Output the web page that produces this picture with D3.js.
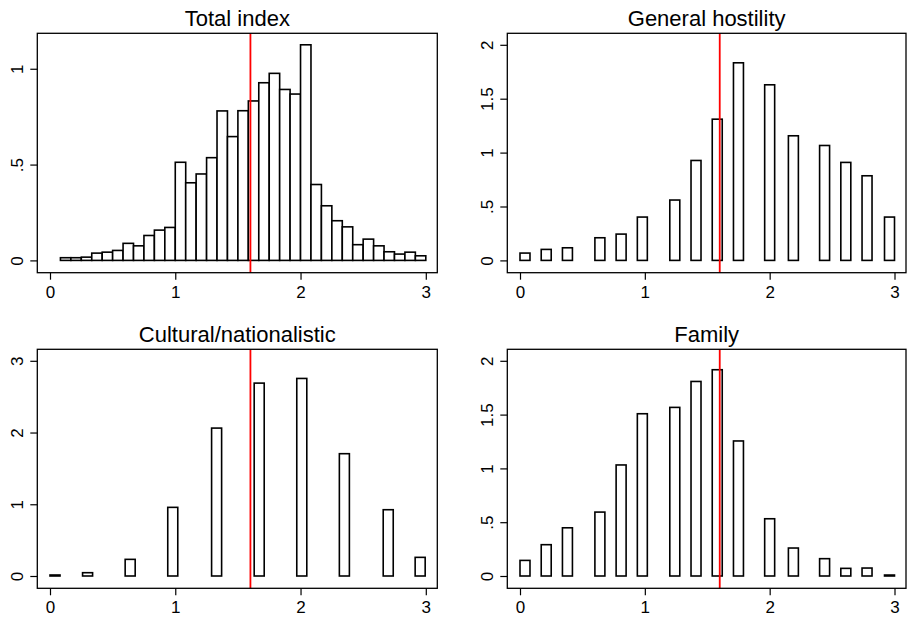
<!DOCTYPE html>
<html>
<head>
<meta charset="utf-8">
<script src="https://cdn.jsdelivr.net/npm/d3@7"></script>
<style>
  body { margin: 0; background: #fff; }
  text { font-family: "Liberation Sans", Arial, Helvetica, sans-serif; fill: #000; }
</style>
</head>
<body>
<svg id="chart" width="907" height="617"></svg>
<script>
/* global d3 */

// Total index: histogram, 35 bins of width 1/12 starting at 1/12
const totalStart = 1 / 12,
  totalWidth = 1 / 12;
const totalDensity = [
  0.014, 0.014, 0.017, 0.038, 0.043, 0.052, 0.089, 0.076, 0.130, 0.158,
  0.172, 0.512, 0.405, 0.451, 0.536, 0.780, 0.646, 0.781, 0.832, 0.927,
  0.976, 0.892, 0.868, 1.125, 0.396, 0.285, 0.207, 0.175, 0.082, 0.111,
  0.076, 0.045, 0.033, 0.043, 0.024
];

// General hostility / Family: discrete bars
const hostilityX = [0.04, 0.21, 0.38, 0.64, 0.81, 0.98, 1.24, 1.41, 1.58, 1.75, 2.0, 2.19, 2.44, 2.61, 2.78, 2.96];
const hostilityDensity = [0.068, 0.102, 0.117, 0.21, 0.244, 0.402, 0.56, 0.927, 1.31, 1.833, 1.629, 1.156, 1.066, 0.909, 0.785, 0.402];

const familyX = [0.04, 0.21, 0.38, 0.64, 0.81, 0.98, 1.24, 1.41, 1.58, 1.75, 2.0, 2.19, 2.44, 2.61, 2.78, 2.96];
const familyDensity = [0.145, 0.291, 0.448, 0.594, 1.032, 1.508, 1.567, 1.808, 1.917, 1.255, 0.532, 0.26, 0.161, 0.071, 0.074, 0.009];

// Cultural/nationalistic
const culturalX = [0.04, 0.30, 0.64, 0.98, 1.33, 1.67, 2.01, 2.35, 2.70, 2.955];
const culturalDensity = [0.014, 0.046, 0.232, 0.957, 2.062, 2.689, 2.754, 1.705, 0.924, 0.26];

const xTicks = [0, 1, 2, 3];
const meanLine = 1.6;
const barWidth = 0.08;

const panels = [
  {
    title: 'Total index',
    box: { x: 37.3, y: 33.3, w: 400, h: 239.4 },
    bars: totalDensity.map((d, i) => ({ x0: totalStart + i * totalWidth, x1: totalStart + (i + 1) * totalWidth, v: d })),
    yTicks: [0, 0.5, 1]
  },
  {
    title: 'General hostility',
    box: { x: 507.3, y: 33.3, w: 398.7, h: 239.4 },
    bars: hostilityDensity.map((d, i) => ({ x0: hostilityX[i] - barWidth / 2, x1: hostilityX[i] + barWidth / 2, v: d })),
    yTicks: [0, 0.5, 1, 1.5, 2]
  },
  {
    title: 'Cultural/nationalistic',
    box: { x: 37.3, y: 349.3, w: 400, h: 239 },
    bars: culturalDensity.map((d, i) => ({ x0: culturalX[i] - barWidth / 2, x1: culturalX[i] + barWidth / 2, v: d })),
    yTicks: [0, 1, 2, 3]
  },
  {
    title: 'Family',
    box: { x: 507.3, y: 349.3, w: 398.7, h: 239 },
    bars: familyDensity.map((d, i) => ({ x0: familyX[i] - barWidth / 2, x1: familyX[i] + barWidth / 2, v: d })),
    yTicks: [0, 0.5, 1, 1.5, 2]
  }
];

// Stata-style labels: ".5" instead of "0.5"
const fmt = d => String(d).replace(/^0\./, '.');

const svg = d3.select('#chart');

panels.forEach(function(p) {
  var b = p.box;
  var g = svg.append('g').attr('class', 'panel');

  var yMax = Math.max(d3.max(p.bars, d => d.v), d3.max(p.yTicks));

  var x = d3.scaleLinear().domain([0, 3]).range([b.x + 12.7, b.x + b.w - 11.5]);
  var y = d3.scaleLinear().domain([0, yMax]).range([b.y + b.h - 12.3, b.y + 11.5]);

  // title
  g.append('text')
    .attr('x', b.x + b.w / 2)
    .attr('y', b.y - 7)
    .attr('text-anchor', 'middle')
    .style('font-size', '22px')
    .text(p.title);

  // bars
  g.append('g').selectAll('rect')
    .data(p.bars)
    .enter()
    .append('rect')
    .attr('x', d => x(d.x0))
    .attr('width', d => x(d.x1) - x(d.x0))
    .attr('y', d => y(d.v))
    .attr('height', d => y(0) - y(d.v))
    .attr('fill', '#fff')
    .attr('stroke', '#000')
    .attr('stroke-width', 1.6);

  // mean line
  g.append('line')
    .attr('x1', x(meanLine))
    .attr('x2', x(meanLine))
    .attr('y1', b.y)
    .attr('y2', b.y + b.h)
    .attr('stroke', '#ff0000')
    .attr('stroke-width', 1.8);

  // plot box
  g.append('rect')
    .attr('x', b.x)
    .attr('y', b.y)
    .attr('width', b.w)
    .attr('height', b.h)
    .attr('fill', 'none')
    .attr('stroke', '#000')
    .attr('stroke-width', 1.3);

  // x axis
  var xAxis = g.append('g')
    .attr('transform', `translate(0,${b.y + b.h})`)
    .call(d3.axisBottom(x).tickValues(xTicks).tickSize(7).tickFormat(d3.format('d')));
  xAxis.select('.domain').remove();
  xAxis.selectAll('line').attr('stroke', '#000').attr('stroke-width', 1.2);
  xAxis.selectAll('text')
    .attr('y', 25)
    .attr('dy', 0)
    .style('font-size', '17px')
    .style('font-family', '"Liberation Sans", Arial, sans-serif');

  // y axis
  var yAxis = g.append('g')
    .attr('transform', `translate(${b.x},0)`)
    .call(d3.axisLeft(y).tickValues(p.yTicks).tickSize(7).tickFormat(fmt));
  yAxis.select('.domain').remove();
  yAxis.selectAll('line').attr('stroke', '#000').attr('stroke-width', 1.2);
  yAxis.selectAll('text')
    .attr('x', 0)
    .attr('y', -14.5)
    .attr('dy', 0)
    .attr('transform', 'rotate(-90)')
    .attr('text-anchor', 'middle')
    .style('font-size', '17px')
    .style('font-family', '"Liberation Sans", Arial, sans-serif');
});
</script>
</body>
</html>
